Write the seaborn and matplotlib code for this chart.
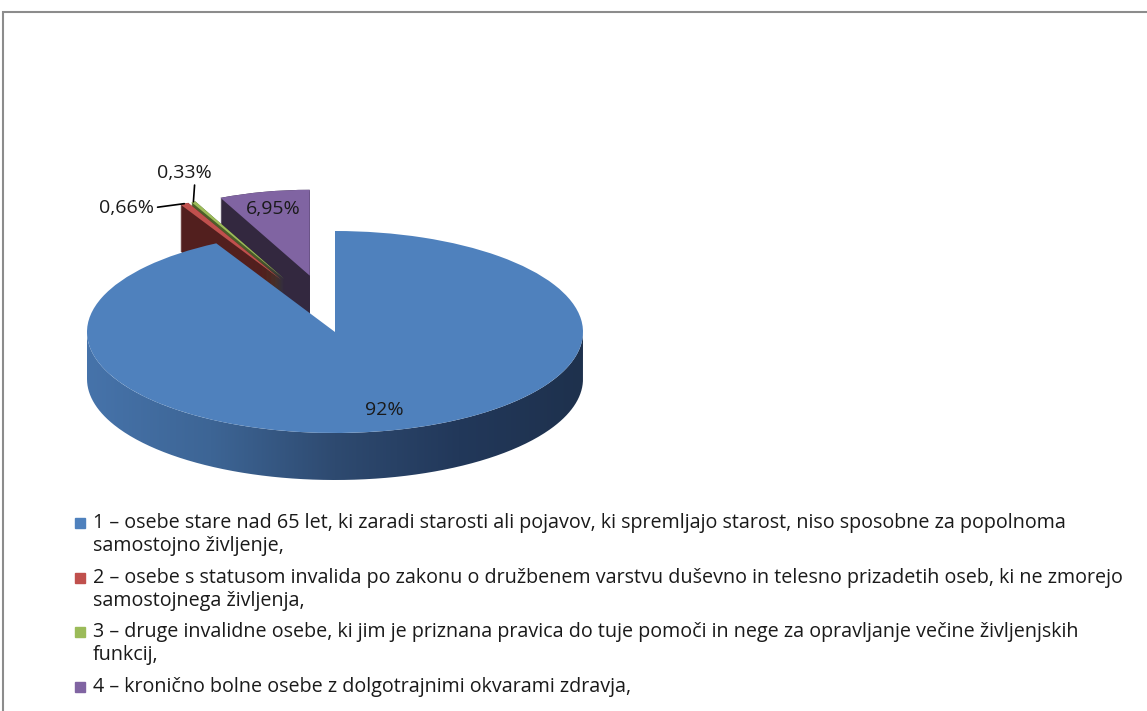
import numpy as np
import matplotlib
matplotlib.use("Agg")
import matplotlib.pyplot as plt
import seaborn as sns
from matplotlib.patches import Wedge, PathPatch, Rectangle
from matplotlib.path import Path
from matplotlib.lines import Line2D
from matplotlib.colors import LinearSegmentedColormap

# data
shares = [92, 0.66, 0.33, 6.95]
share_labels = ["92%", "0,66%", "0,33%", "6,95%"]
legend_labels = [
    "1 – osebe stare nad 65 let, ki zaradi starosti ali pojavov, ki spremljajo starost, niso sposobne za popolnoma\nsamostojno življenje,",
    "2 – osebe s statusom invalida po zakonu o družbenem varstvu duševno in telesno prizadetih oseb, ki ne zmorejo\nsamostojnega življenja,",
    "3 – druge invalidne osebe, ki jim je priznana pravica do tuje pomoči in nege za opravljanje večine življenjskih\nfunkcij,",
    "4 – kronično bolne osebe z dolgotrajnimi okvarami zdravja,",
]
top_colors = ["#4f81bd", "#c0504d", "#9bbb59", "#8064a2"]
side_colors = ["#2c4770", "#521f1e", "#4c5e2a", "#33283f"]
explode = [0, 0.47, 0.47, 0.47]

sns.set_style("white")
plt.rcParams["font.family"] = ["Open Sans", "DejaVu Sans"]

W, H = 1147, 711
fig = plt.figure(figsize=(W / 100, H / 100), dpi=100)
ax = fig.add_axes([0, 0, 1, 1])

# squashed disc + side wall to mimic the excel 3d pie (pixel layout)
cx, cy, rx, ry, depth_px = 335, 332, 248, 101, 47
depth = depth_px / ry
# exploded slices sit further back in the perspective view: smaller and a bit higher
back_radius = 0.85
back_lift = 10 / ry

wedges, _ = ax.pie(shares, colors=top_colors, startangle=90, counterclock=False,
                   explode=explode, wedgeprops=dict(linewidth=0))

# back slices first, the big front slice last
draw_order = [3, 2, 1, 0]
for rank, i in enumerate(draw_order):
    w = wedges[i]
    z = 1 + 2 * rank
    if i != 0:
        w.set_radius(back_radius)
        x0, y0 = w.center
        w.set_center((x0, y0 + back_lift))
        x0, y0 = w.center
        for off in np.linspace(depth, 0, 48):
            ax.add_patch(Wedge((x0, y0 - off), w.r, w.theta1, w.theta2,
                               facecolor=side_colors[i], lw=0, zorder=z))
    w.set_zorder(z + 1)

# front wall of the blue slice with a shading gradient
t = np.linspace(np.pi, 2 * np.pi, 300)
verts = np.concatenate([np.c_[np.cos(t), np.sin(t)],
                        np.c_[np.cos(t[::-1]), np.sin(t[::-1]) - depth]])
verts = np.vstack([verts, verts[:1]])
wall = PathPatch(Path(verts), fill=False, lw=0)
ax.add_patch(wall)
wall_cmap = LinearSegmentedColormap.from_list(
    "wall", ["#4673aa", "#3d6595", "#2e4a70", "#22385a", "#1e314d"])
im = ax.imshow(np.linspace(0, 1, 256)[None, :], extent=(-1, 1, -1 - depth, 0),
               cmap=wall_cmap, aspect="auto", zorder=7, interpolation="bilinear")
im.set_clip_path(wall)

ax.set_aspect("auto")
ax.set_xlim(-cx / rx, (W - cx) / rx)
ax.set_ylim(-(H - cy) / ry, cy / ry)
ax.axis("off")


def slice_point(w, frac):
    mid = np.deg2rad((w.theta1 + w.theta2) / 2)
    return (w.center[0] + frac * w.r * np.cos(mid),
            w.center[1] + frac * w.r * np.sin(mid))


lab_kw = dict(fontsize=14, color="#1a1a1a", zorder=10)
ax.text(*slice_point(wedges[0], 0.8), share_labels[0], ha="center", va="center", **lab_kw)
ax.text(*slice_point(wedges[3], 0.8), share_labels[3], ha="center", va="center", **lab_kw)
ax.annotate(share_labels[1], xy=slice_point(wedges[1], 1.0), xytext=(-30, -4),
            textcoords="offset pixels", ha="right", va="center",
            arrowprops=dict(arrowstyle="-", color="black", lw=1.2,
                            shrinkA=0, shrinkB=0, relpos=(1, 0.5)), **lab_kw)
ax.annotate(share_labels[2], xy=slice_point(wedges[2], 1.0), xytext=(-9, 20),
            textcoords="offset pixels", ha="center", va="bottom",
            arrowprops=dict(arrowstyle="-", color="black", lw=1.2,
                            shrinkA=0, shrinkB=0, relpos=(0.69, 0)), **lab_kw)

# legend drawn by hand so the marker sits on the first line of wrapped text
leg_y0, leg_step, line_step = 523, 54.7, 23
for i, label in enumerate(legend_labels):
    y = leg_y0 + i * leg_step
    fig.add_artist(Line2D([80 / W], [1 - y / H], marker="s", markersize=6.5,
                          color=top_colors[i], lw=0, transform=fig.transFigure))
    for j, line in enumerate(label.split("\n")):
        fig.text(93 / W, 1 - (y + j * line_step) / H, line, ha="left",
                 va="center", fontsize=14.2, color="#1a1a1a")

# chart area border (cut at right and bottom in the original)
fig.add_artist(Rectangle((3 / W, -0.05), 1.1, 1.05 - 12 / H, transform=fig.transFigure,
                         fill=False, edgecolor="#8c8c8c", lw=1.5, clip_on=False))

fig.savefig("out.png", dpi=100)
